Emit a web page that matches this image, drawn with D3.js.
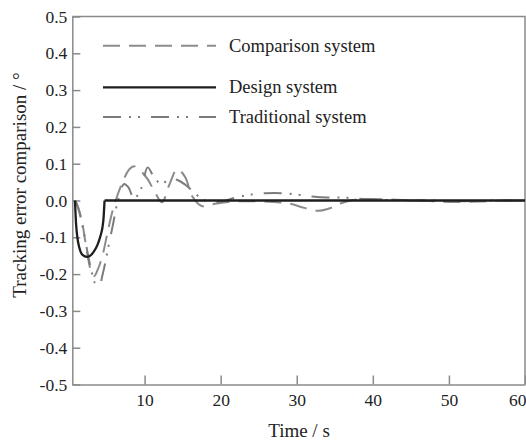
<!DOCTYPE html>
<html>
<head>
<meta charset="utf-8">
<script src="https://cdnjs.cloudflare.com/ajax/libs/d3/7.8.5/d3.min.js"></script>
<style>
  body { margin: 0; background: #fff; }
  text { font-family: 'Liberation Serif', 'Times New Roman', serif; fill: #222; }
</style>
</head>
<body>
<div class="chart"></div>
<script>
const width = 526;
const height = 443;
const plotLeft = 72.3;
const plotRight = 525;
const plotTop = 16.5;
const plotBottom = 384.5;
const tickFont = 17.5;
const labelFont = 18.5;
const titleFont = 19;
const axisColor = '#8a8a8a';

// values
const xTicks = [10, 20, 30, 40, 50, 60];
const yTicks = [-0.5, -0.4, -0.3, -0.2, -0.1, 0, 0.1, 0.2, 0.3, 0.4, 0.5];

const seriesNames = ['Comparison system', 'Design system', 'Traditional system'];

const comparisonT = [0.9, 1.3, 1.8, 2.2, 2.6, 3.1, 3.4, 3.8, 4.4, 5.1, 5.7, 6.2, 7.1, 8.0, 8.6, 9.4, 10.4, 11.3, 12.3, 13.2, 14.3, 15.3, 16.3, 17.5, 19, 21, 23, 25, 27, 29, 31, 32.8, 34.5, 36, 38, 40, 43, 46, 50, 54, 57, 60];
const comparisonE = [0, -0.02, -0.06, -0.11, -0.16, -0.2, -0.205, -0.19, -0.155, -0.09, -0.035, 0, 0.05, 0.085, 0.093, 0.082, 0.058, 0.025, -0.005, 0.04, 0.085, 0.065, 0.01, -0.015, -0.01, -0.004, -0.002, -0.002, -0.004, -0.008, -0.02, -0.028, -0.02, -0.006, 0.003, 0.004, 0.002, 0, -0.004, -0.003, 0, 0];

const designT = [0.85, 1.0, 1.15, 1.42, 1.81, 2.43, 3.26, 3.78, 4.18, 4.57, 4.74, 60];
const designE = [0, -0.065, -0.098, -0.128, -0.147, -0.153, -0.141, -0.122, -0.098, -0.057, 0, 0];

const traditionalT = [0.9, 1.4, 1.95, 2.4, 3.0, 3.5, 4.0, 4.5, 5.2, 5.8, 6.5, 7.3, 7.9, 8.6, 9.6, 10.4, 11.2, 12.2, 13.4, 14.4, 15.2, 16.1, 17.3, 18.5, 20, 22, 24, 26, 28, 30, 32, 34, 36, 38, 41, 44, 48, 52, 56, 60];
const traditionalE = [0, -0.03, -0.08, -0.13, -0.19, -0.225, -0.233, -0.2, -0.13, -0.07, 0, 0.045, 0.035, 0.005, 0.035, 0.09, 0.065, 0.045, 0.06, 0.055, 0.045, 0.03, 0.008, -0.004, -0.003, 0.008, 0.016, 0.02, 0.02, 0.016, 0.011, 0.008, 0.008, 0.005, 0.002, 0, 0, -0.002, 0, 0];

const zip = (ts, es) => ts.map((t, i) => [t, es[i]]);

const svg = d3
  .select('.chart')
  .append('svg')
  .attr('width', width)
  .attr('height', height);

const xScale = d3.scaleLinear().domain([0.5, 60]).range([plotLeft, plotRight]);
const yScale = d3.scaleLinear().domain([-0.5, 0.5]).range([plotBottom, plotTop]);

// frame (top and right)
svg
  .append('path')
  .attr('d', `M${plotLeft},${plotTop}H${plotRight}V${plotBottom}`)
  .attr('fill', 'none')
  .attr('stroke', axisColor)
  .attr('stroke-width', 1.5);

// X axis
const xAxis = d3
  .axisBottom(xScale)
  .tickValues(xTicks)
  .tickFormat(d3.format('d'))
  .tickSize(-9)
  .tickSizeOuter(0)
  .tickPadding(9);
const gx = svg
  .append('g')
  .attr('transform', `translate(0, ${plotBottom})`)
  .call(xAxis)
  .attr('font-size', tickFont);

// last label sits on the right edge, keep it inside the page
gx.selectAll('.tick text')
  .filter((d) => d === xTicks[xTicks.length - 1])
  .attr('text-anchor', 'end')
  .attr('dx', 1);

// Y axis
const yAxis = d3
  .axisLeft(yScale)
  .tickValues(yTicks)
  .tickFormat((d) => d.toFixed(1))
  .tickSize(-8)
  .tickSizeOuter(0)
  .tickPadding(5);
const gy = svg
  .append('g')
  .attr('transform', `translate(${plotLeft}, 0)`)
  .call(yAxis)
  .attr('font-size', tickFont);

[gx, gy].forEach((g) => {
  g.attr('font-family', null);
  g.select('.domain').attr('stroke', axisColor).attr('stroke-width', 1.5);
  g.selectAll('.tick line').attr('stroke', axisColor).attr('stroke-width', 1.5);
  g.selectAll('.tick text').attr('fill', '#222');
});

// axis titles
svg
  .append('text')
  .text('Time / s')
  .attr('text-anchor', 'middle')
  .attr('x', 299)
  .attr('y', 437)
  .attr('font-size', titleFont);

svg
  .append('text')
  .text('Tracking error comparison / °')
  .attr('text-anchor', 'middle')
  .attr('transform', 'translate(26, 185) rotate(-90)')
  .attr('font-size', titleFont);

// lines
const smooth = d3
  .line()
  .x((d) => xScale(d[0]))
  .y((d) => yScale(d[1]))
  .curve(d3.curveCatmullRom.alpha(0.5));

const monotone = d3
  .line()
  .x((d) => xScale(d[0]))
  .y((d) => yScale(d[1]))
  .curve(d3.curveMonotoneX);

const straight = d3
  .line()
  .x((d) => xScale(d[0]))
  .y((d) => yScale(d[1]));

const styles = [
  { color: '#8c8c8c', width: 2, dash: '17,9' },
  { color: '#1e1e1e', width: 2.3, dash: null },
  { color: '#7c7c7c', width: 2, dash: '18,8,2,7,2,11' },
];

const plot = svg.append('g').attr('id', 'lines');

plot
  .append('path')
  .attr('d', smooth(zip(comparisonT, comparisonE)))
  .attr('fill', 'none')
  .attr('stroke', styles[0].color)
  .attr('stroke-width', styles[0].width)
  .attr('stroke-dasharray', styles[0].dash);

plot
  .append('path')
  .attr('d', smooth(zip(traditionalT, traditionalE)))
  .attr('fill', 'none')
  .attr('stroke', styles[2].color)
  .attr('stroke-width', styles[2].width)
  .attr('stroke-dasharray', styles[2].dash);

// design: smooth dip, then a flat line at zero
const designPts = zip(designT, designE);
const back = designE.indexOf(0, 1);
plot
  .append('path')
  .attr(
    'd',
    monotone(designPts.slice(0, back + 1)) + straight(designPts.slice(back))
  )
  .attr('fill', 'none')
  .attr('stroke', styles[1].color)
  .attr('stroke-width', styles[1].width);

// Legend
const legendY = [45.7, 87.3, 117];
const legend = svg.append('g').attr('id', 'legend');

seriesNames.forEach((name, i) => {
  legend
    .append('line')
    .attr('x1', 103)
    .attr('x2', 216)
    .attr('y1', legendY[i])
    .attr('y2', legendY[i])
    .attr('stroke', styles[i].color)
    .attr('stroke-width', styles[i].width)
    .attr('stroke-dasharray', styles[i].dash);
  legend
    .append('text')
    .text(name)
    .attr('x', 229)
    .attr('y', legendY[i])
    .attr('dy', '0.32em')
    .attr('font-size', labelFont);
});
</script>
</body>
</html>
